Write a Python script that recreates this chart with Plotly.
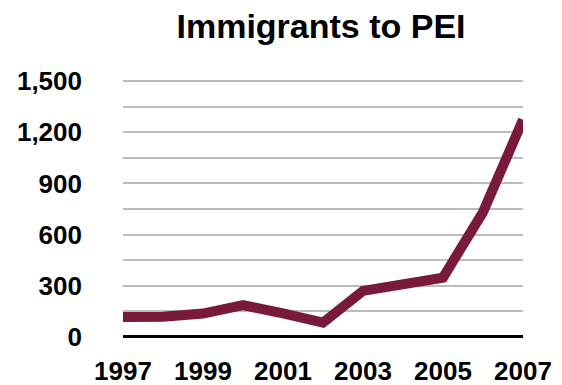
import plotly.graph_objects as go

years = [1997, 1998, 1999, 2000, 2001, 2002, 2003, 2004, 2005, 2006, 2007]
immigrants = [117, 118, 137, 186, 138, 84, 270, 309, 348, 732, 1273]

y_tickvals = [0, 150, 300, 450, 600, 750, 900, 1050, 1200, 1350, 1500]
y_ticktext = ["0", "", "300", "", "600", "", "900", "", "1,200", "", "1,500"]
x_tickvals = [1997, 1999, 2001, 2003, 2005, 2007]
x_ticktext = ["1997", "1999", "2001", "2003", "2005", "2007"]

font_family = "Liberation Sans, Arial, sans-serif"

fig = go.Figure()
fig.add_trace(go.Scatter(
    x=years, y=immigrants, mode="lines",
    line=dict(color="#7a1a3b", width=10),
    hoverinfo="skip",
))

fig.update_layout(
    width=562, height=385,
    margin=dict(l=123, r=39, t=79, b=46),
    paper_bgcolor="white", plot_bgcolor="white",
    showlegend=False,
    title=dict(
        text="Immigrants to PEI",
        font=dict(family=font_family, size=34, color="black", weight="bold"),
        x=321 / 562, xanchor="center",
        y=1 - 26 / 385, yanchor="middle", yref="container",
    ),
)
fig.update_xaxes(
    range=[1997, 2007], automargin=False,
    tickvals=x_tickvals, ticktext=x_ticktext,
    showgrid=False, zeroline=False, showline=False,
    ticks="",
    tickfont=dict(family=font_family, size=26, color="black", weight="bold"),
    ticklabelstandoff=14,
)
fig.update_yaxes(
    range=[-12, 1512], automargin=False,
    tickvals=y_tickvals, ticktext=y_ticktext,
    showgrid=True, gridcolor="#bcbcbc", gridwidth=2,
    zeroline=True, zerolinecolor="black", zerolinewidth=3,
    showline=False, ticks="",
    tickfont=dict(family=font_family, size=26, color="black", weight="bold"),
    ticklabelstandoff=40,
)

fig.write_html("out.html")
